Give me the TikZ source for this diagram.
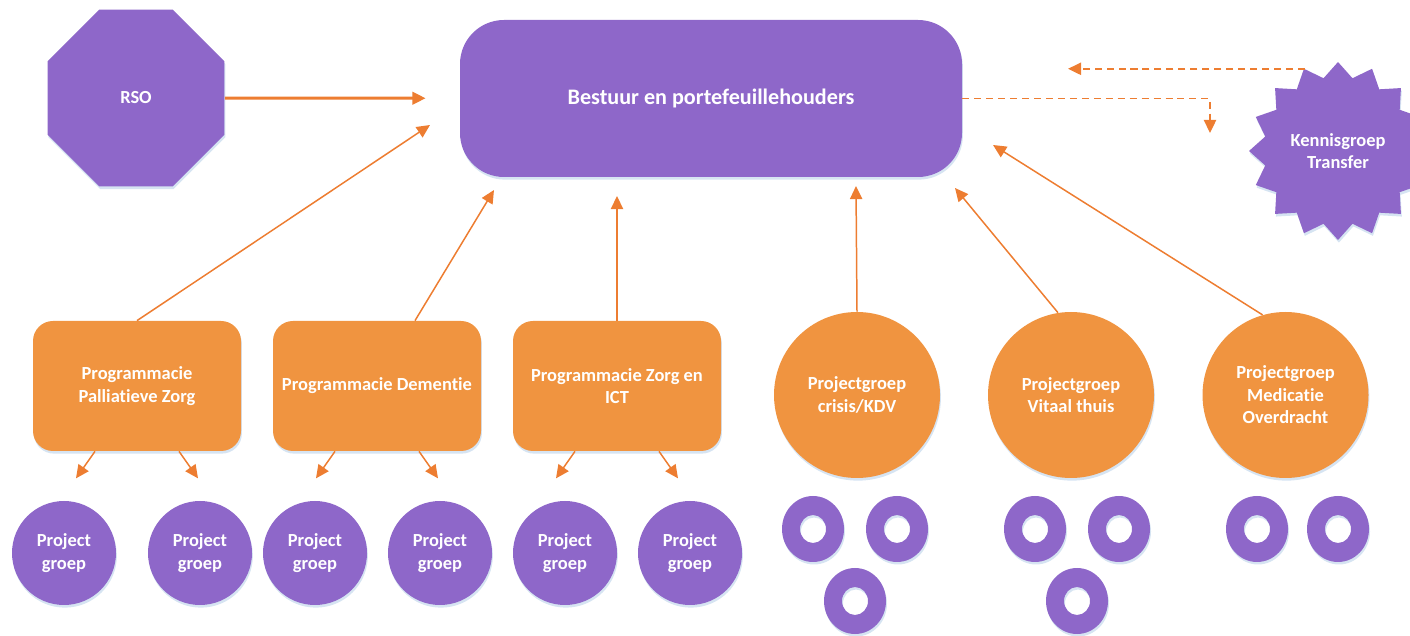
\documentclass[tikz,border=0pt]{standalone}
\usepackage{fontspec}
\setmainfont{Carlito}[Ligatures=NoCommon]
\usetikzlibrary{shapes.geometric,shadows,arrows.meta}
\definecolor{paars}{RGB}{142,103,201}
\definecolor{oranje}{RGB}{240,148,64}
\definecolor{pijl}{RGB}{237,125,49}
\definecolor{schaduw}{RGB}{214,228,242}

\begin{document}
\begin{tikzpicture}[
	font=\bfseries\fontsize{10.5}{12.8}\selectfont,
	softshadow/.style={drop shadow={shadow xshift=0.5pt,shadow yshift=-1.5pt,fill=schaduw,opacity=1}},
	paarsvlak/.style={fill=paars, text=white, align=center, softshadow},
	oranjevlak/.style={fill=oranje, text=white, align=center, softshadow},
	programma/.style={oranjevlak, rounded corners=0.4cm, minimum width=4.16cm, minimum height=2.6cm, inner sep=2pt},
	werkgroep/.style={oranjevlak, circle, minimum size=3.32cm, inner sep=0pt},
	projectje/.style={paarsvlak, circle, minimum size=2.08cm, inner sep=0pt},
	arr/.style={draw=pijl, line width=0.85pt, -{Triangle[length=7.5pt,width=7pt]}},
	stippel/.style={arr, line width=1.1pt, dash pattern=on 4pt off 2.8pt}
]
	\useasboundingbox (0,0) rectangle (28.2,12.7);
	\clip (0,0) rectangle (28.2,12.7);

	% bovenste laag
	\node[paarsvlak, regular polygon, regular polygon sides=8, minimum size=3.83cm, inner sep=0pt] (rso) at (2.72,10.74) {RSO};
	\node[paarsvlak, rounded corners=0.88cm, minimum width=10.04cm, minimum height=3.14cm, font=\bfseries\fontsize{12.6}{15}\selectfont] (bestuur) at (14.22,10.73) {Bestuur en portefeuillehouders};
	\node[paarsvlak, star, star points=16, star point ratio=1.2, minimum size=3.56cm, inner sep=0pt] (kennis) at (26.76,9.68) {Kennisgroep\\Transfer};

	% programma's en projectgroepen
	\node[programma] (pal) at (2.74,4.98) {Programmacie\\Palliatieve Zorg};
	\node[programma] (dem) at (7.54,4.98) {Programmacie Dementie};
	\node[programma] (ict) at (12.34,4.98) {Programmacie Zorg en\\ICT};
	\node[werkgroep] (crisis) at (17.14,4.80) {Projectgroep\\crisis/KDV};
	\node[werkgroep] (vitaal) at (21.42,4.80) {Projectgroep\\Vitaal thuis};
	\node[werkgroep] (medic) at (25.71,4.80) {Projectgroep\\Medicatie\\Overdracht};

	% project groepen onderaan
	\node[projectje] (pg1) at (1.28,1.64) {Project\\groep};
	\node[projectje] (pg2) at (4.00,1.64) {Project\\groep};
	\node[projectje] (pg3) at (6.30,1.64) {Project\\groep};
	\node[projectje] (pg4) at (8.80,1.64) {Project\\groep};
	\node[projectje] (pg5) at (11.30,1.64) {Project\\groep};
	\node[projectje] (pg6) at (13.80,1.64) {Project\\groep};

	% ringen
	\foreach \x/\y in {16.26/2.12, 17.94/2.12, 17.10/0.68, 20.70/2.12, 22.38/2.12, 21.54/0.68, 25.14/2.12, 26.76/2.12}{
		\fill[schaduw, even odd rule] (\x+0.02,\y-0.05) ellipse (0.62cm and 0.66cm) (\x+0.02,\y-0.05) ellipse (0.26cm and 0.28cm);
		\fill[paars, even odd rule] (\x,\y) ellipse (0.62cm and 0.66cm) (\x,\y) ellipse (0.26cm and 0.28cm);
	}

	% pijlpunten
	\coordinate (t1) at (8.60,10.20);
	\coordinate (t2) at (9.88,8.90);
	\coordinate (t3) at (12.34,8.78);
	\coordinate (t4) at (17.12,8.98);
	\coordinate (t5) at (19.10,8.94);
	\coordinate (t6) at (19.86,9.80);
	\coordinate (t7) at (24.20,10.04);
	\coordinate (t8) at (21.36,11.30);

	\draw[arr, line width=1.7pt, shorten >=0.68cm] (rso) -- (bestuur);
	\draw[arr] (pal.north) -- (t1);
	\draw[arr] ([xshift=0.76cm]dem.north) -- (t2);
	\draw[arr] (ict.north) -- (t3);
	\draw[arr] (crisis.north) -- (t4);
	\draw[arr] (vitaal.99) -- (t5);
	\draw[arr] (medic.106) -- (t6);

	\draw[stippel] (bestuur.east) -| (t7);
	\draw[stippel] (kennis.112) -- (kennis.112 -| t8);

	\foreach \b in {pal,dem,ict}{
		\draw[arr] ([xshift=-0.84cm]\b.south) -- ++(-0.38cm,-0.54cm);
		\draw[arr] ([xshift=0.84cm]\b.south) -- ++(0.38cm,-0.54cm);
	}
\end{tikzpicture}
\end{document}
